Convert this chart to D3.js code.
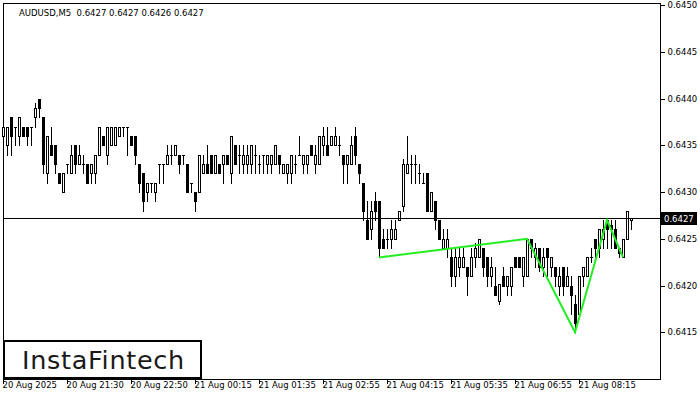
<!DOCTYPE html>
<html>
<head>
<meta charset="utf-8">
<script src="https://cdn.jsdelivr.net/npm/d3@7"></script>
<style>
html,body{margin:0;padding:0;background:#fff;}
svg{display:block;}
text{font-family:"DejaVu Sans",sans-serif;white-space:pre;}
</style>
</head>
<body>
<svg id="chart" width="700" height="400"></svg>
<script>
const symbolTitle = "AUDUSD,M5  0.6427 0.6427 0.6426 0.6427";
const brandText = "InstaFintech";

const open = [0.6436,0.6435,0.6438,0.6437,0.6436,0.6437,0.6437,0.6437,0.6438,0.6440,
0.6438,0.6432,0.6435,0.6435,0.6432,0.6430,0.6433,0.6432,0.6435,0.6433,
0.6433,0.6433,0.6432,0.6432,0.6434,0.6436,0.6434,0.6435,0.6435,0.6436,
0.6437,0.6437,0.6436,0.6436,0.6433,0.6432,0.6430,0.6431,0.6430,0.6433,
0.6433,0.6433,0.6434,0.6434,0.6434,0.6434,0.6433,0.6431,0.6430,0.6430,
0.6432,0.6433,0.6434,0.6432,0.6433,0.6433,0.6434,0.6432,0.6435,0.6434,
0.6433,0.6433,0.6433,0.6434,0.6433,0.6434,0.6433,0.6433,0.6433,0.6434,
0.6432,0.6432,0.6432,0.6433,0.6434,0.6433,0.6433,0.6435,0.6433,0.6433,
0.6435,0.6435,0.6435,0.6435,0.6435,0.6434,0.6433,0.6433,0.6436,0.6433,
0.6431,0.6427,0.6426,0.6429,0.6429,0.6425,0.6425,0.6425,0.6425,0.6427,
0.64285,0.6432,0.6433,0.6433,0.6432,0.6431,0.6432,0.6428,0.6429,0.6427,
0.6424,0.6424,0.6423,0.6421,0.6422,0.6422,0.6422,0.6421,0.6423,0.6423,
0.6424,0.6423,0.6421,0.6420,0.64183,0.6421,0.6420,0.6420,0.6423,0.6423,
0.6421,0.6421,0.6425,0.6423,0.6424,0.6422,0.6424,0.6422,0.6422,0.6420,
0.6422,0.6420,0.6420,0.6418,0.6417,0.6421,0.6421,0.6423,0.6425,0.6424,
0.6425,0.6427,0.64265,0.6426,0.6424,0.6423,0.6425,0.6427];

const high = [0.6437,0.6437,0.6438,0.6437,0.6438,0.6437,0.6437,0.6437,0.64395,0.6440,
0.6438,0.6436,0.6437,0.6435,0.6432,0.6432,0.6433,0.6435,0.6435,0.6435,
0.6434,0.6433,0.6433,0.6434,0.6437,0.6436,0.6437,0.6437,0.6437,0.6437,
0.6437,0.6437,0.6436,0.6436,0.6433,0.6432,0.6431,0.6431,0.6431,0.6433,
0.6433,0.6435,0.6435,0.6435,0.6434,0.6434,0.6433,0.6431,0.6430,0.6434,
0.6434,0.6435,0.6434,0.6434,0.6433,0.6434,0.6434,0.6436,0.6435,0.6435,
0.6435,0.6435,0.6435,0.6435,0.6434,0.6434,0.6434,0.6434,0.6435,0.6434,
0.6433,0.6433,0.6434,0.6434,0.6436,0.6434,0.6434,0.6435,0.6435,0.6436,
0.6437,0.6437,0.6436,0.6437,0.6436,0.6434,0.6434,0.6436,0.6437,0.6433,
0.6431,0.6429,0.6429,0.6430,0.6429,0.6426,0.6426,0.6427,0.6427,0.6428,
0.64335,0.6436,0.6434,0.6434,0.6433,0.6432,0.6432,0.6430,0.6429,0.6427,
0.6426,0.6426,0.6424,0.6424,0.6424,0.6424,0.6422,0.6424,0.64245,0.6425,
0.6424,0.6423,0.6423,0.6422,0.64202,0.6422,0.6421,0.6422,0.6423,0.6423,
0.6423,0.6425,0.6425,0.64245,0.6424,0.6424,0.6424,0.6423,0.6422,0.6422,
0.6422,0.6422,0.6421,0.6419,0.6421,0.6422,0.6423,0.6424,0.6425,0.6426,
0.6427,0.6427,0.6427,0.6427,0.6424,0.6425,0.6428,0.64272];

const low = [0.64355,0.6434,0.6434,0.6435,0.6435,0.6436,0.6435,0.6435,0.6437,0.6438,
0.6432,0.6431,0.6434,0.6432,0.6431,0.6430,0.6432,0.6432,0.6432,0.6433,
0.6432,0.6431,0.6431,0.6431,0.6434,0.6435,0.6433,0.6435,0.6435,0.6436,
0.6436,0.6434,0.6435,0.6433,0.6430,0.6428,0.6429,0.6430,0.6429,0.6431,
0.6431,0.6433,0.6433,0.6434,0.6432,0.6433,0.6430,0.6430,0.6428,0.6430,
0.6432,0.6432,0.6432,0.6432,0.6432,0.6431,0.6433,0.6431,0.6433,0.6432,
0.6432,0.6432,0.6432,0.6432,0.6432,0.6432,0.6432,0.6432,0.6433,0.6432,
0.6432,0.6431,0.6431,0.6432,0.6434,0.6432,0.6432,0.6434,0.6432,0.6433,
0.6434,0.6434,0.6435,0.6435,0.6434,0.6431,0.6431,0.6433,0.6433,0.6431,
0.6427,0.6425,0.6425,0.6427,0.6423,0.6424,0.6424,0.6424,0.6425,0.6427,
0.6428,0.6432,0.6431,0.6431,0.6431,0.6431,0.6428,0.6428,0.6426,0.6425,
0.6424,0.6423,0.6420,0.6420,0.6421,0.6422,0.6419,0.6421,0.6422,0.6423,
0.6421,0.6420,0.6420,0.6419,0.6418,0.6420,0.6419,0.6419,0.6422,0.6422,
0.6420,0.6421,0.6423,0.6422,0.64215,0.6421,0.6421,0.6421,0.6420,0.6419,
0.6419,0.6420,0.6417,0.6415,0.6417,0.6420,0.6421,0.64225,0.6423,0.6423,
0.6424,0.6424,0.6424,0.6424,0.6423,0.6423,0.6425,0.6426];

const close = [0.6437,0.6437,0.6436,0.6437,0.6438,0.6436,0.6436,0.6437,0.6439,0.6439,
0.6433,0.6436,0.6434,0.6433,0.6431,0.6432,0.6433,0.6434,0.6433,0.6434,
0.6433,0.6431,0.6433,0.6434,0.6437,0.6435,0.6437,0.6437,0.6437,0.6437,
0.6437,0.6437,0.6435,0.6434,0.6431,0.6429,0.6431,0.6431,0.6431,0.6433,
0.6433,0.6434,0.6434,0.6435,0.6433,0.6434,0.6430,0.6431,0.6429,0.6434,
0.6433,0.6432,0.6432,0.6434,0.6432,0.6434,0.6433,0.6436,0.6433,0.6434,
0.6434,0.6434,0.6435,0.6434,0.6433,0.6434,0.6434,0.6434,0.6435,0.6433,
0.6433,0.6433,0.6434,0.6433,0.6434,0.6434,0.6434,0.6434,0.6434,0.6436,
0.6436,0.6434,0.6436,0.6436,0.6435,0.6433,0.6434,0.6435,0.6434,0.6432,
0.6428,0.6425,0.6428,0.6428,0.6424,0.6424,0.6425,0.6426,0.6426,0.6428,
0.6433,0.6433,0.6433,0.6433,0.6432,0.6431,0.6428,0.6430,0.6427,0.6425,
0.6425,0.6425,0.6421,0.6423,0.6423,0.6423,0.6421,0.6423,0.6424,0.6425,
0.6422,0.6421,0.6422,0.6419,0.64202,0.6420,0.6421,0.6422,0.6422,0.6422,
0.6423,0.6425,0.6424,0.6424,0.6422,0.6423,0.6423,0.6423,0.6421,0.6421,
0.6420,0.6421,0.6419,0.6416,0.6421,0.6422,0.6423,0.6423,0.6424,0.6426,
0.6426,0.6426,0.6426,0.6424,0.64235,0.6425,0.6428,0.64272];

const timeTickIndex = [0,16,32,48,64,80,96,112,128,144];
const timeTickLabels = ["20 Aug 2025","20 Aug 21:30","20 Aug 22:50","21 Aug 00:15","21 Aug 01:35","21 Aug 02:55","21 Aug 04:15","21 Aug 05:35","21 Aug 06:55","21 Aug 08:15"];

const priceTicks = [0.6415,0.6420,0.6425,0.6430,0.6435,0.6440,0.6445,0.6450];
const currentPrice = 0.64272;
const currentPriceLabel = "0.6427";

const patternIndex = [94,131,143,151,155];
const patternPrice = [0.6423,0.6425,0.6415,0.6427,0.6423];

const svg = d3.select("#chart");
const plotLeft = 3, plotRight = 660, plotTop = 3, plotBottom = 379;

const x = d3.scaleLinear().domain([0, 157]).range([3, 631]);
const y = d3.scaleLinear().domain([0.6410, 0.6450]).range([379, 5]);

const px = i => Math.round(x(i));
const py = v => Math.round(y(v));

// frame
svg.append("rect").attr("x", plotLeft + 0.5).attr("y", plotTop + 0.5)
  .attr("width", plotRight - plotLeft).attr("height", plotBottom - plotTop)
  .attr("fill", "none").attr("stroke", "#000").attr("stroke-width", 1);

// title
svg.append("text").attr("x", 19).attr("y", 16).attr("font-size", 8.5)
  .attr("fill", "#000").attr("xml:space", "preserve").text(symbolTitle);

// candles
const data = open.map((o, i) => ({i, o, h: high[i], l: low[i], c: close[i]}));
const g = svg.append("g").attr("shape-rendering", "crispEdges");
data.forEach(d => {
  const cx = px(d.i) + 0.5;
  const yh = py(d.h), yl = py(d.l), yo = py(d.o), yc = py(d.c);
  g.append("line").attr("x1", cx).attr("x2", cx).attr("y1", yh).attr("y2", yl + 1)
    .attr("stroke", "#000").attr("stroke-width", 1);
  const top = Math.min(yo, yc), bot = Math.max(yo, yc);
  if (bot - top < 1) {
    g.append("line").attr("x1", cx - 1.5).attr("x2", cx + 1.5)
      .attr("y1", top + 0.5).attr("y2", top + 0.5).attr("stroke", "#000");
  } else {
    g.append("rect").attr("x", cx - 1).attr("y", top + 0.5)
      .attr("width", 2).attr("height", bot - top)
      .attr("fill", d.c < d.o ? "#000" : "#fff").attr("stroke", "#000").attr("stroke-width", 1);
  }
});

// current price line
svg.append("line").attr("x1", plotLeft).attr("x2", plotRight)
  .attr("y1", py(currentPrice) + 0.5).attr("y2", py(currentPrice) + 0.5)
  .attr("stroke", "#000").attr("stroke-width", 1).attr("shape-rendering", "crispEdges");

// pattern
const line = d3.line().x((d) => x(d[0])).y(d => y(d[1]));
svg.append("path").datum(patternIndex.map((k, j) => [k, patternPrice[j]]))
  .attr("d", line).attr("fill", "none").attr("stroke", "#22ee22").attr("stroke-width", 2);

// right axis
const ya = svg.append("g").attr("transform", `translate(${plotRight + 0.5},0)`);
ya.call(d3.axisRight(y).tickValues(priceTicks).tickSize(4).tickPadding(3).tickFormat(d3.format(".4f")));
ya.select(".domain").remove();
ya.selectAll("line").attr("stroke", "#000").attr("shape-rendering", "crispEdges");
ya.selectAll("text").attr("font-family", "DejaVu Sans").attr("font-size", 8.5).attr("fill", "#000");

// current price label
const cpY = py(currentPrice);
svg.append("rect").attr("x", 661).attr("y", cpY - 6).attr("width", 36).attr("height", 13).attr("fill", "#000");
svg.append("text").attr("x", 664).attr("y", cpY + 4).attr("font-size", 8.5).attr("fill", "#fff").text(currentPriceLabel);

// bottom axis
const xa = svg.append("g").attr("transform", `translate(0,${plotBottom + 0.5})`);
xa.call(d3.axisBottom(x).tickValues(timeTickIndex).tickSize(4).tickFormat((d, j) => timeTickLabels[j]));
xa.select(".domain").remove();
xa.selectAll("line").attr("stroke", "#000").attr("shape-rendering", "crispEdges");
xa.selectAll("text").attr("font-family", "DejaVu Sans").attr("font-size", 8.5).attr("fill", "#000")
  .attr("text-anchor", "start").attr("dx", -1).attr("dy", "0.2em");

// brand box
svg.append("rect").attr("x", 4).attr("y", 341).attr("width", 197).attr("height", 37)
  .attr("fill", "#fff").attr("stroke", "#000").attr("stroke-width", 2);
svg.append("text").attr("x", 22).attr("y", 368.5).attr("font-family", "Inter, sans-serif")
  .attr("font-weight", 500).attr("font-size", 25.5).attr("letter-spacing", 0.7)
  .attr("fill", "#1a1a1a").text(brandText);
</script>
</body>
</html>
